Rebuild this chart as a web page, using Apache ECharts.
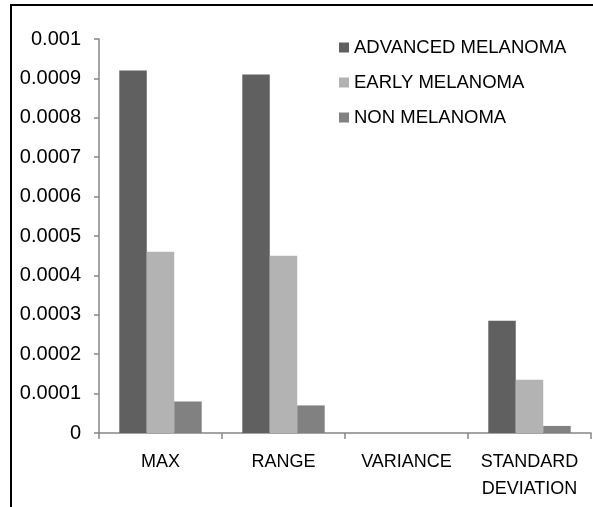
<!DOCTYPE html>
<html><head><meta charset="utf-8">
<script src="https://cdn.jsdelivr.net/npm/echarts@6/dist/echarts.min.js"></script>
<style>html,body{margin:0;padding:0;background:#fff;}#c{width:593px;height:507px;}</style>
</head><body><div id="c"></div>
<script>
var categories = ['MAX', 'RANGE', 'VARIANCE', 'STANDARD\nDEVIATION'];
var seriesNames = ['ADVANCED MELANOMA', 'EARLY MELANOMA', 'NON MELANOMA'];
var advanced = [0.00092, 0.00091, 0.0000001, 0.000285];
var early = [0.00046, 0.00045, 0.00000002, 0.000135];
var non = [0.00008, 0.00007, 0.0000000004, 0.000018];
var colors = ['#606060', '#b3b3b3', '#818181'];
var yTicks = ['0', '0.0001', '0.0002', '0.0003', '0.0004', '0.0005', '0.0006', '0.0007', '0.0008', '0.0009', '0.001'];

var font = 'Liberation Sans';
var chart = echarts.init(document.getElementById('c'), null, {renderer: 'canvas'});
var values = [advanced, early, non];
chart.setOption({
  animation: false,
  color: colors,
  graphic: [{type: 'rect', shape: {x: 11, y: 5, width: 700, height: 700}, style: {fill: 'none', stroke: '#000', lineWidth: 2}, z: -1}],
  grid: {left: 99, right: 2, top: 39, bottom: 74, containLabel: false},
  legend: {
    orient: 'vertical', left: 334, top: 33, itemWidth: 10, itemHeight: 10, itemGap: 16,
    icon: 'rect', textStyle: {fontFamily: font, fontSize: 18.5, color: '#000', padding: [0, 0, 0, 0]},
    data: seriesNames
  },
  xAxis: {
    type: 'category', data: categories,
    axisLine: {lineStyle: {color: '#868686', width: 1.5}},
    axisTick: {show: true, length: 6, lineStyle: {color: '#868686', width: 1.5}},
    axisLabel: {interval: 0, fontFamily: font, fontSize: 18, color: '#000', margin: 16, lineHeight: 27}
  },
  yAxis: {
    type: 'value', min: 0, max: 0.001, interval: 0.0001,
    splitLine: {show: false},
    axisLine: {show: true, lineStyle: {color: '#868686', width: 1.5}},
    axisTick: {show: true, length: 5, lineStyle: {color: '#868686', width: 1.5}},
    axisLabel: {fontFamily: font, fontSize: 20, color: '#000', margin: 18,
      formatter: function (v, i) { return yTicks[i]; }}
  },
  series: seriesNames.map(function (n, i) {
    return {name: n, type: 'bar', data: values[i], barGap: '0%', barCategoryGap: '33%'};
  })
});
</script></body></html>
